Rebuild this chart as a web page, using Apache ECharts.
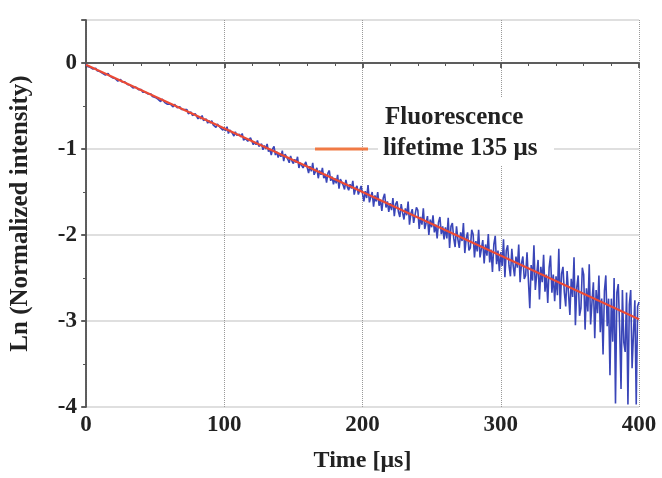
<!DOCTYPE html>
<html>
<head>
<meta charset="utf-8">
<script src="https://cdn.jsdelivr.net/npm/echarts@6/dist/echarts.min.js"></script>
<style>html,body{margin:0;padding:0;background:#fff;}#c{width:662px;height:478px;}</style>
</head>
<body>
<div id="c"></div>
<script>
const timeStep = 1;
const measured = [
  -0.01, -0.04, -0.03, -0.05, -0.04, -0.07, -0.07, -0.06, -0.09, -0.08,
  -0.10, -0.09, -0.12, -0.11, -0.14, -0.13, -0.12, -0.15, -0.15, -0.17,
  -0.17, -0.18, -0.17, -0.21, -0.19, -0.19, -0.22, -0.23, -0.22, -0.24,
  -0.25, -0.24, -0.26, -0.25, -0.29, -0.28, -0.28, -0.30, -0.31, -0.30,
  -0.31, -0.34, -0.33, -0.34, -0.33, -0.36, -0.36, -0.36, -0.39, -0.38,
  -0.40, -0.38, -0.42, -0.41, -0.45, -0.42, -0.41, -0.46, -0.44, -0.48,
  -0.46, -0.48, -0.46, -0.51, -0.48, -0.48, -0.52, -0.54, -0.51, -0.54,
  -0.56, -0.54, -0.56, -0.54, -0.59, -0.57, -0.57, -0.61, -0.61, -0.59,
  -0.60, -0.65, -0.62, -0.65, -0.61, -0.67, -0.66, -0.65, -0.70, -0.67,
  -0.70, -0.67, -0.72, -0.71, -0.75, -0.71, -0.70, -0.75, -0.74, -0.78,
  -0.75, -0.79, -0.74, -0.82, -0.78, -0.77, -0.82, -0.85, -0.80, -0.84,
  -0.86, -0.83, -0.86, -0.82, -0.90, -0.87, -0.86, -0.91, -0.91, -0.87,
  -0.89, -0.95, -0.92, -0.95, -0.90, -0.97, -0.96, -0.94, -1.01, -0.96,
  -1.00, -0.94, -1.03, -1.00, -1.07, -1.00, -0.97, -1.07, -1.03, -1.10,
  -1.05, -1.09, -1.02, -1.14, -1.06, -1.05, -1.12, -1.16, -1.08, -1.14,
  -1.17, -1.12, -1.16, -1.09, -1.22, -1.16, -1.15, -1.22, -1.21, -1.15,
  -1.16, -1.28, -1.20, -1.26, -1.16, -1.30, -1.26, -1.22, -1.34, -1.25,
  -1.30, -1.22, -1.34, -1.29, -1.39, -1.28, -1.25, -1.37, -1.32, -1.41,
  -1.34, -1.40, -1.30, -1.46, -1.35, -1.33, -1.42, -1.47, -1.36, -1.44,
  -1.48, -1.41, -1.46, -1.37, -1.53, -1.46, -1.43, -1.53, -1.52, -1.43,
  -1.44, -1.61, -1.49, -1.57, -1.42, -1.62, -1.56, -1.50, -1.67, -1.54,
  -1.61, -1.50, -1.66, -1.59, -1.72, -1.57, -1.52, -1.68, -1.61, -1.73,
  -1.63, -1.71, -1.57, -1.78, -1.64, -1.61, -1.73, -1.79, -1.64, -1.74,
  -1.82, -1.69, -1.77, -1.61, -1.88, -1.75, -1.70, -1.86, -1.84, -1.68,
  -1.71, -1.93, -1.79, -1.88, -1.69, -1.93, -1.86, -1.78, -2.00, -1.82,
  -1.91, -1.77, -1.97, -1.88, -2.04, -1.85, -1.79, -1.99, -1.90, -2.05,
  -1.91, -2.04, -1.80, -2.15, -1.90, -1.86, -2.04, -2.14, -1.90, -2.05,
  -2.15, -1.97, -2.07, -1.86, -2.21, -2.04, -1.97, -2.18, -2.15, -1.94,
  -1.99, -2.26, -2.07, -2.19, -1.94, -2.26, -2.16, -2.06, -2.33, -2.11,
  -2.24, -1.99, -2.32, -2.17, -2.43, -2.11, -2.01, -2.34, -2.18, -2.42,
  -2.20, -2.36, -2.05, -2.49, -2.18, -2.12, -2.36, -2.48, -2.16, -2.36,
  -2.48, -2.25, -2.38, -2.11, -2.55, -2.33, -2.25, -2.51, -2.47, -2.20,
  -2.21, -2.85, -2.35, -2.53, -2.12, -2.64, -2.46, -2.29, -2.75, -2.37,
  -2.55, -2.23, -2.66, -2.46, -2.79, -2.38, -2.24, -2.67, -2.46, -2.77,
  -2.48, -2.70, -2.16, -2.86, -2.45, -2.37, -2.67, -2.83, -2.42, -2.67,
  -2.93, -2.51, -2.72, -2.26, -3.05, -2.61, -2.47, -2.94, -2.85, -2.38,
  -2.46, -3.10, -2.62, -2.89, -2.34, -3.04, -2.78, -2.55, -3.20, -2.64,
  -2.91, -2.47, -3.13, -2.74, -3.39, -2.65, -2.47, -3.06, -2.74, -3.63,
  -2.74, -3.24, -2.50, -3.96, -2.67, -2.57, -3.08, -3.79, -2.64, -3.25,
  -3.36, -2.67, -3.97, -2.81, -2.64, -3.55, -3.15, -2.76, -3.97, -2.83,
  -2.78
];
// Single-exponential fit (lifetime 135 µs)
const fitTime = [0, 400];
const fitValue = [-0.02, -2.98];
const xTicks = [0, 100, 200, 300, 400];
const yTicks = [-4, -3, -2, -1, 0];
const legendLines = ['Fluorescence', 'lifetime 135 μs'];

const measuredData = measured.map((v, i) => [i * timeStep, v]);
const fitData = fitTime.map((t, i) => [t, fitValue[i]]);

const FONT = 'Liberation Serif';
const txt = {fontFamily: FONT, fontWeight: 'bold', fontSize: 23, color: '#222'};
const axisLine = {show: true, lineStyle: {color: '#555', width: 1.5}};

const chart = echarts.init(document.getElementById('c'));
chart.setOption({
  animation: false,
  backgroundColor: '#fff',
  grid: {left: 86, right: 23, top: 20, bottom: 68},
  xAxis: [{
    type: 'value', min: 0, max: 400, interval: 100, position: 'bottom',
    axisLine: axisLine,
    axisTick: {show: true, length: 5, inside: false, lineStyle: {color: '#555', width: 1.5}},
    minorTick: {show: true, splitNumber: 5, length: 3, lineStyle: {color: '#555'}},
    axisLabel: Object.assign({margin: 7, formatter: v => xTicks.includes(v) ? String(v) : ''}, txt),
    splitLine: {show: true, lineStyle: {color: '#999', type: 'dotted', width: 1}},
    name: 'Time [μs]', nameLocation: 'middle', nameGap: 42,
    nameTextStyle: Object.assign({}, txt, {fontSize: 24})
  }, {
    type: 'value', min: 0, max: 400, interval: 100, position: 'top',
    axisLine: axisLine,
    axisTick: {show: true, inside: true, length: 5, lineStyle: {color: '#555', width: 1.5}},
    minorTick: {show: true, splitNumber: 5, length: 3, lineStyle: {color: '#555'}},
    axisLabel: {show: false}, splitLine: {show: false}
  }],
  yAxis: [{
    type: 'value', min: -4, max: 0.5, interval: 1, position: 'left',
    axisLine: axisLine,
    axisTick: {show: true, length: 4, inside: false, lineStyle: {color: '#555', width: 1.5}},
    minorTick: {show: true, splitNumber: 2, length: 3, lineStyle: {color: '#555'}},
    axisLabel: Object.assign({margin: 9, showMaxLabel: false, formatter: v => yTicks.includes(v) ? String(v) : ''}, txt),
    splitLine: {show: true, lineStyle: {color: '#d4d4d4', width: 1.5}},
    name: 'Ln (Normalized intensity)', nameLocation: 'middle', nameGap: 53, nameRotate: 90,
    nameTextStyle: Object.assign({}, txt, {fontSize: 25})
  }, {
    type: 'value', min: -4, max: 0.5, interval: 1, position: 'right',
    axisLine: axisLine,
    axisTick: {show: true, inside: true, length: 5, lineStyle: {color: '#555', width: 1.5}},
    minorTick: {show: true, splitNumber: 2, length: 3, lineStyle: {color: '#555'}},
    axisLabel: {show: false}, splitLine: {show: false}
  }],
  series: [{
    type: 'line', data: measuredData, showSymbol: false, symbol: 'none',
    lineStyle: {color: '#3a46b8', width: 1.6}, z: 2, clip: true
  }, {
    type: 'line', data: fitData, showSymbol: false, symbol: 'none',
    lineStyle: {color: '#ec4a34', width: 2}, z: 3
  }],
  graphic: [{
    type: 'rect', shape: {x: 378, y: 98, width: 176, height: 68},
    style: {fill: '#fff'}, z: 5
  }, {
    type: 'line', shape: {x1: 315, y1: 149, x2: 368, y2: 149},
    style: {stroke: '#f07a45', lineWidth: 3}, z: 6
  }, {
    type: 'text', x: 385, y: 118, z: 6,
    style: {text: legendLines[0], font: 'bold 25px "Liberation Serif"', fill: '#222', verticalAlign: 'middle'}
  }, {
    type: 'text', x: 383, y: 149, z: 6,
    style: {text: legendLines[1], font: 'bold 25px "Liberation Serif"', fill: '#222', verticalAlign: 'middle'}
  }]
});
</script>
</body>
</html>
